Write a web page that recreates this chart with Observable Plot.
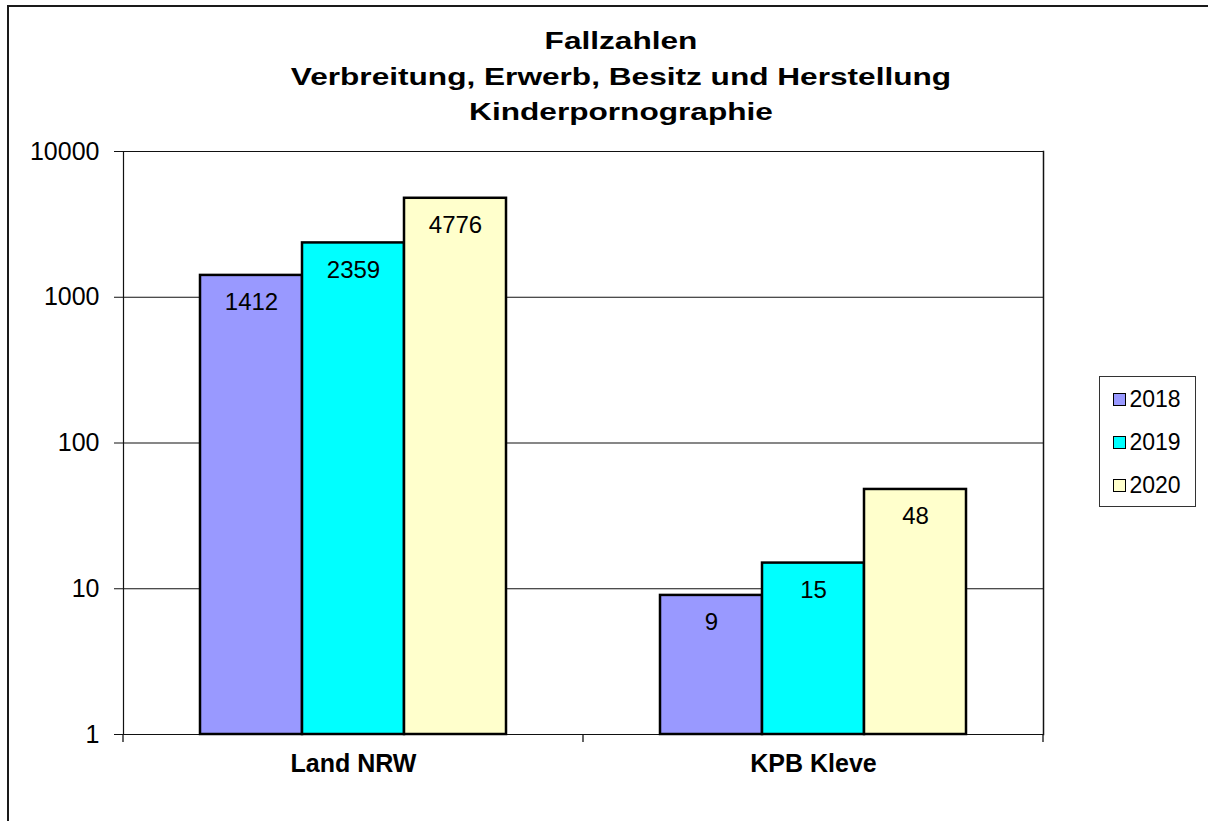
<!DOCTYPE html>
<html>
<head>
<meta charset="utf-8">
<script src="https://cdn.jsdelivr.net/npm/d3@7"></script>
<script src="https://cdn.jsdelivr.net/npm/@observablehq/plot@0.6"></script>
<style>
  html, body { margin: 0; padding: 0; background: #fff; overflow: hidden; }
  body { width: 1208px; height: 821px; position: relative; font-family: "Liberation Sans", Arial, sans-serif; color: #000; }
  #border { position: absolute; left: 7px; top: 5px; width: 1400px; height: 1000px; border: 2px solid #1a1a1a; box-sizing: border-box; }
  #title { position: absolute; left: 0; top: 23px; width: 1242px; text-align: center; font-weight: bold; font-size: 24.5px; line-height: 35.5px; transform: scaleX(1.29); transform-origin: 621px 0; }
  #chart { position: absolute; left: 0; top: 130px; }
  #legend { position: absolute; left: 1099px; top: 376px; width: 97px; height: 131px; border: 1.5px solid #333; box-sizing: border-box; padding: 1px 0 0 12.5px; }
  .row { height: 43px; display: flex; align-items: center; font-size: 23px; }
  .sw { width: 11px; height: 11px; border: 1.5px solid #000; margin-right: 4px; }
</style>
</head>
<body>
<div id="border"></div>
<div id="title">Fallzahlen<br>Verbreitung, Erwerb, Besitz und Herstellung<br>Kinderpornographie</div>
<div id="chart"></div>
<div id="legend"></div>
<script>
const categories = ["Land NRW", "KPB Kleve"];
const years = ["2018", "2019", "2020"];
const landNRW = [1412, 2359, 4776];
const kpbKleve = [9, 15, 48];
const yearColors = ["#9999FF", "#00FFFF", "#FFFFCC"];
const yTicks = [1, 10, 100, 1000, 10000];

const seriesByCategory = [landNRW, kpbKleve];
const data = [];
categories.forEach((c, i) => years.forEach((y, j) => data.push({category: c, year: y, value: seriesByCategory[i][j]})));

const chart = Plot.plot({
  width: 1208,
  height: 691,
  marginLeft: 122,
  marginRight: 165,
  marginTop: 21,
  marginBottom: 87,
  style: {fontFamily: "'Liberation Sans', Arial, sans-serif", fontSize: "24px", color: "#000", background: "transparent"},
  fx: {domain: categories, padding: 0, label: null},
  x: {domain: years, paddingInner: 0, paddingOuter: 0.742, align: 0.5, axis: null},
  y: {type: "log", domain: [1, 10000], label: null},
  color: {domain: years, range: yearColors},
  marks: [
    Plot.gridY(yTicks, {stroke: "#111", strokeOpacity: 1, strokeWidth: 1.2}),
    Plot.frame({anchor: "left", facetAnchor: "left", stroke: "#111", strokeWidth: 1.2}),
    Plot.frame({anchor: "right", facetAnchor: "right", stroke: "#111", strokeWidth: 1.5}),
    Plot.barY(data, {fx: "category", x: "year", y1: 1, y2: "value", fill: "year", stroke: "#000", strokeWidth: 2.5, inset: 0}),
    Plot.text(data, {fx: "category", x: "year", y: "value", text: d => String(d.value), dy: 27, fontSize: 24, fill: "#000"}),
    Plot.axisY(yTicks, {tickSize: 9, tickPadding: 15, tickFormat: d3.format("d"), fontSize: 25, stroke: "#111", label: null}),
    Plot.axisFx({anchor: "bottom", tickSize: 0, tickPadding: 20, fontSize: 25, fontWeight: "bold", label: null})
  ]
});
document.getElementById("chart").appendChild(chart);

// small category-boundary ticks below the x axis, from the plot's scales
const fx = chart.scale("fx");
const ys = chart.scale("y");
const base = ys.apply(1);
const edges = categories.map(c => fx.apply(c)).concat([fx.apply(categories[categories.length - 1]) + fx.bandwidth]);
d3.select(chart).append("g")
  .selectAll("line").data(edges).join("line")
  .attr("x1", d => d).attr("x2", d => d)
  .attr("y1", base).attr("y2", base + 8)
  .attr("stroke", "#111").attr("stroke-width", 1.3);

// legend built from the plot's color scale
const color = chart.scale("color");
const legend = d3.select("#legend");
color.domain.forEach(y => {
  const row = legend.append("div").attr("class", "row");
  row.append("div").attr("class", "sw").style("background", color.apply(y));
  row.append("span").text(y);
});
</script>
</body>
</html>
